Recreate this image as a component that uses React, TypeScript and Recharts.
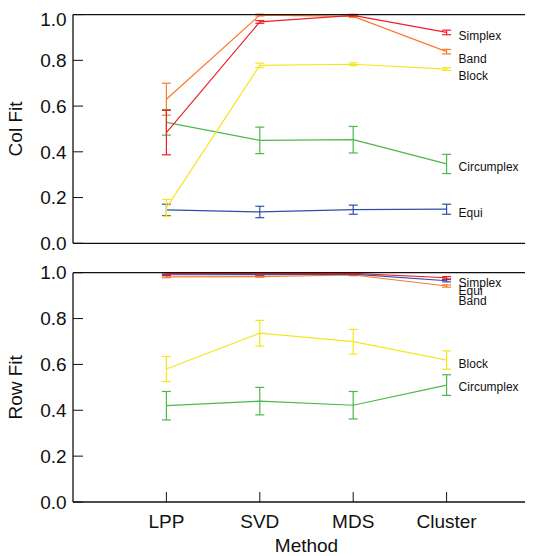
import { LineChart, Line, XAxis, YAxis, ErrorBar, LabelList } from 'recharts'

const categories = ['LPP', 'SVD', 'MDS', 'Cluster']
const yTicks = [0, 0.2, 0.4, 0.6, 0.8, 1.0]
const xTicks = [1, 2, 3, 4]

// Col Fit (top panel)
const colSimplex = [0.484, 0.968, 0.997, 0.922]
const colSimplexErr = [0.097, 0.006, 0.004, 0.01]
const colBand = [0.63, 0.998, 0.992, 0.838]
const colBandErr = [0.07, 0.004, 0.004, 0.01]
const colBlock = [0.155, 0.778, 0.783, 0.762]
const colBlockErr = [0.037, 0.01, 0.006, 0.006]
const colCircumplex = [0.529, 0.45, 0.453, 0.347]
const colCircumplexErr = [0.056, 0.058, 0.058, 0.042]
const colEqui = [0.146, 0.137, 0.147, 0.149]
const colEquiErr = [0.025, 0.025, 0.02, 0.022]

// Row Fit (bottom panel)
const rowSimplex = [0.996, 0.996, 0.997, 0.978]
const rowSimplexErr = [0.004, 0.003, 0.003, 0.005]
const rowEqui = [0.991, 0.992, 0.994, 0.965]
const rowEquiErr = [0.003, 0.003, 0.003, 0.005]
const rowBand = [0.982, 0.983, 0.99, 0.942]
const rowBandErr = [0.004, 0.003, 0.003, 0.005]
const rowBlock = [0.58, 0.736, 0.699, 0.619]
const rowBlockErr = [0.055, 0.056, 0.054, 0.04]
const rowCircumplex = [0.42, 0.44, 0.422, 0.51]
const rowCircumplexErr = [0.062, 0.06, 0.06, 0.045]

const colors = {
  Simplex: '#f0202a',
  Band: '#fa7a2a',
  Block: '#f6e620',
  Circumplex: '#4cb848',
  Equi: '#2f4fa8',
}

type Series = { name: keyof typeof colors; values: number[]; errs: number[]; labelDy: number }

const colSeries: Series[] = [
  { name: 'Equi', values: colEqui, errs: colEquiErr, labelDy: 4 },
  { name: 'Circumplex', values: colCircumplex, errs: colCircumplexErr, labelDy: 3.3 },
  { name: 'Block', values: colBlock, errs: colBlockErr, labelDy: 6.7 },
  { name: 'Band', values: colBand, errs: colBandErr, labelDy: 7 },
  { name: 'Simplex', values: colSimplex, errs: colSimplexErr, labelDy: 3.7 },
]

const rowSeries: Series[] = [
  { name: 'Circumplex', values: rowCircumplex, errs: rowCircumplexErr, labelDy: 1.7 },
  { name: 'Block', values: rowBlock, errs: rowBlockErr, labelDy: 3.7 },
  { name: 'Band', values: rowBand, errs: rowBandErr, labelDy: 14.7 },
  { name: 'Equi', values: rowEqui, errs: rowEquiErr, labelDy: 10.3 },
  { name: 'Simplex', values: rowSimplex, errs: rowSimplexErr, labelDy: 5 },
]

const buildRows = (series: Series[]) =>
  categories.map((c, i) => {
    const row: Record<string, number | string> = { x: i + 1, cat: c }
    series.forEach((s) => {
      row[s.name] = s.values[i]
      row[s.name + 'Err'] = s.errs[i]
    })
    return row
  })

const FONT = '"Liberation Sans", Arial, sans-serif'
const AXIS = '#111'

const endLabel = (name: string, dy: number) => (props: any) => {
  const { x, y, index } = props
  if (index !== categories.length - 1) return null
  return (
    <text x={x + 12} y={y + dy} dy="0.35em" fontSize={12} fill="#111" fontFamily={FONT}>
      {name}
    </text>
  )
}

function Panel({
  series,
  yLabel,
  height,
  marginTop,
  showX,
}: {
  series: Series[]
  yLabel: string
  height: number
  marginTop: number
  showX: boolean
}) {
  const data = buildRows(series)
  return (
    <LineChart
      width={525}
      height={height}
      data={data}
      margin={{ top: marginTop, right: -8, bottom: showX ? 0 : 13.7, left: 0 }}
      style={{ fontFamily: FONT }}
    >
      <XAxis
        dataKey="x"
        type="number"
        domain={[0, 5]}
        ticks={xTicks}
        tickFormatter={(v: number) => categories[v - 1] ?? ''}
        height={showX ? 54 : 1}
        tick={showX ? { fontSize: 19, fill: '#111' } : false}
        tickSize={-10}
        tickMargin={22.5}
        axisLine={{ stroke: AXIS, strokeWidth: 1.3 }}
        tickLine={{ stroke: AXIS, strokeWidth: 1 }}
        allowDataOverflow
        label={
          showX
            ? { value: 'Method', position: 'insideBottom', offset: 4.3, fontSize: 19, fill: '#111' }
            : undefined
        }
      />
      <XAxis
        xAxisId="t"
        orientation="top"
        type="number"
        domain={[0, 5]}
        ticks={xTicks}
        height={1}
        tick={false}
        tickSize={-10}
        axisLine={{ stroke: AXIS, strokeWidth: 1.3 }}
        tickLine={{ stroke: AXIS, strokeWidth: 1 }}
        allowDataOverflow
      />
      <YAxis
        type="number"
        domain={[0, 1]}
        ticks={yTicks}
        width={65}
        tickFormatter={(v: number) => v.toFixed(1)}
        tick={{ fontSize: 19, fill: '#111' }}
        tickSize={-10}
        tickMargin={16.3}
        axisLine={{ stroke: AXIS, strokeWidth: 1.3 }}
        tickLine={{ stroke: AXIS, strokeWidth: 1 }}
        allowDataOverflow
        label={{
          value: yLabel,
          angle: -90,
          position: 'insideLeft',
          offset: 7.5,
          fontSize: 19,
          fill: '#111',
          style: { textAnchor: 'middle' },
        }}
      />
      <YAxis
        yAxisId="r"
        orientation="right"
        type="number"
        domain={[0, 1]}
        ticks={yTicks}
        width={1}
        tick={false}
        tickSize={-10}
        axisLine={{ stroke: AXIS, strokeWidth: 1.3 }}
        tickLine={{ stroke: AXIS, strokeWidth: 1 }}
        allowDataOverflow
      />
      {series.map((s) => (
        <Line
          key={s.name}
          dataKey={s.name}
          stroke={colors[s.name]}
          strokeWidth={1.2}
          dot={false}
          activeDot={false}
          isAnimationActive={false}
        >
          <ErrorBar dataKey={s.name + 'Err'} width={4.5} stroke={colors[s.name]} strokeWidth={1.2} />
          <LabelList dataKey={s.name} content={endLabel(s.name, s.labelDy)} />
        </Line>
      ))}
    </LineChart>
  )
}

export default function App() {
  return (
    <div style={{ width: 525, fontFamily: FONT }}>
      <Panel series={colSeries} yLabel="Col Fit" height={250} marginTop={5.6} showX={false} />
      <Panel series={rowSeries} yLabel="Row Fit" height={298} marginTop={13.7} showX />
    </div>
  )
}
